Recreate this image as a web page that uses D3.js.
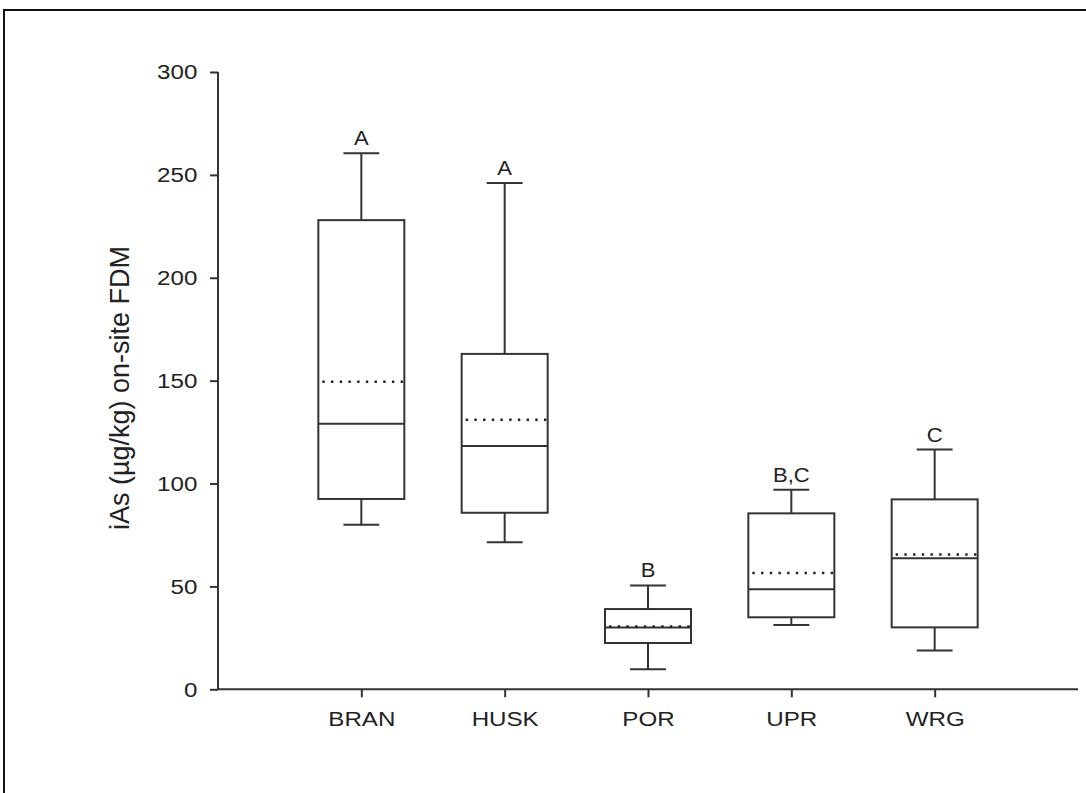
<!DOCTYPE html>
<html>
<head>
<meta charset="utf-8">
<script src="https://cdn.jsdelivr.net/npm/d3@7"></script>
<style>
  html, body { margin: 0; padding: 0; background: #fff; }
  svg { display: block; }
  text { font-family: "Liberation Sans", Arial, sans-serif; fill: #222; }
</style>
</head>
<body>
<svg id="chart" width="1086" height="793"></svg>
<script>
const categories = ["BRAN", "HUSK", "POR", "UPR", "WRG"];
const whiskerHigh = [260.5, 246, 50.5, 97, 116.5];
const q3 = [228, 163, 39, 85.5, 92.3];
const means = [149.5, 131, 30.5, 56.5, 65.5];
const medians = [129, 118.2, 30, 48.6, 63.7];
const q1 = [92.5, 85.8, 22.5, 35, 30.1];
const whiskerLow = [80, 71.5, 9.7, 31.2, 18.8];
const groupLetters = ["A", "A", "B", "B,C", "C"];
const yTicks = [0, 50, 100, 150, 200, 250, 300];
const yTitle = "iAs (µg/kg) on-site FDM";

const svg = d3.select("#chart");
const lineColor = "#333";

// frame
svg.append("rect").attr("x", 4).attr("y", 10).attr("width", 1100).attr("height", 800)
  .attr("fill", "none").attr("stroke", "#111").attr("stroke-width", 2);

const x = d3.scalePoint().domain(categories).range([218, 1078]).padding(1);
const y = d3.scaleLinear().domain([0, 300]).range([689.3, 72]);

const step = x.step();
const boxW = step * 0.6;
const capW = step * 0.25;

// axes
const yAxis = svg.append("g").attr("transform", "translate(218,0)")
  .call(d3.axisLeft(y).tickValues(yTicks).tickSize(8).tickPadding(10));
const xAxis = svg.append("g").attr("transform", "translate(0,689.3)")
  .call(d3.axisBottom(x).tickSize(8).tickPadding(14));
[yAxis, xAxis].forEach(a => {
  a.select(".domain").attr("stroke", lineColor).attr("stroke-width", 2);
  a.selectAll(".tick line").attr("stroke", lineColor).attr("stroke-width", 2);
  a.selectAll(".tick text").attr("font-size", 21).attr("fill", "#222")
    .attr("font-family", "'Liberation Sans', Arial, sans-serif")
    .attr("transform", "scale(1.15,1)");
});
xAxis.select(".domain").attr("d", `M218,0H1078`);
yAxis.select(".domain").attr("d", `M0,${y(300)}V${y(0)}`);

// y title
svg.append("text")
  .attr("transform", `translate(129,388) rotate(-90)`)
  .attr("text-anchor", "middle")
  .attr("font-size", 27)
  .text(yTitle);

// boxes
const g = svg.append("g");
categories.forEach((c, i) => {
  const cx = x(c);
  g.append("line").attr("x1", cx).attr("x2", cx).attr("y1", y(whiskerHigh[i])).attr("y2", y(q3[i]))
    .attr("stroke", lineColor).attr("stroke-width", 2);
  g.append("line").attr("x1", cx).attr("x2", cx).attr("y1", y(q1[i])).attr("y2", y(whiskerLow[i]))
    .attr("stroke", lineColor).attr("stroke-width", 2);
  [whiskerHigh[i], whiskerLow[i]].forEach(v => {
    g.append("line").attr("x1", cx - capW / 2).attr("x2", cx + capW / 2).attr("y1", y(v)).attr("y2", y(v))
      .attr("stroke", lineColor).attr("stroke-width", 2);
  });
  g.append("rect").attr("x", cx - boxW / 2).attr("y", y(q3[i]))
    .attr("width", boxW).attr("height", y(q1[i]) - y(q3[i]))
    .attr("fill", "none").attr("stroke", lineColor).attr("stroke-width", 2);
  g.append("line").attr("x1", cx - boxW / 2).attr("x2", cx + boxW / 2).attr("y1", y(medians[i])).attr("y2", y(medians[i]))
    .attr("stroke", lineColor).attr("stroke-width", 2);
  g.append("line").attr("x1", cx - boxW / 2 + 4).attr("x2", cx + boxW / 2).attr("y1", y(means[i])).attr("y2", y(means[i]))
    .attr("stroke", "#222").attr("stroke-width", 2.4).attr("stroke-dasharray", "2.4,6.3");
  g.append("g").attr("transform", `translate(${cx},${y(whiskerHigh[i]) - 8}) scale(1.1,1)`)
    .append("text").attr("text-anchor", "middle").attr("font-size", 20).text(groupLetters[i]);
});
</script>
</body>
</html>
